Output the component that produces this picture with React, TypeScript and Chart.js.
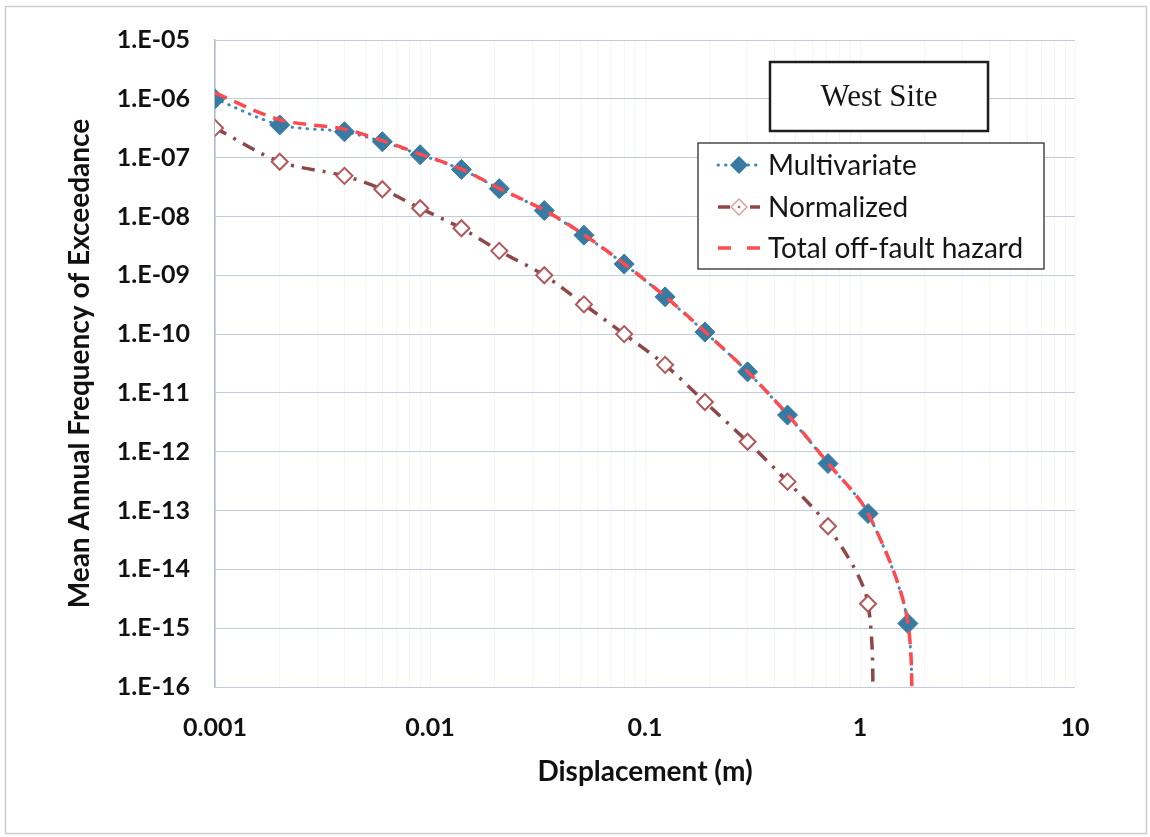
import React, { useEffect, useRef } from 'react';
import { Chart, registerables } from 'chart.js';

Chart.register(...registerables);

// ---- data ----
const multivariateX = [0.001, 0.002, 0.004, 0.006, 0.009, 0.014, 0.021, 0.034, 0.052, 0.08, 0.124, 0.19, 0.3, 0.46, 0.71, 1.09, 1.67, 1.71];
const multivariateY = [1.0e-6, 3.6e-7, 2.75e-7, 1.87e-7, 1.12e-7, 6.3e-8, 2.97e-8, 1.26e-8, 4.8e-9, 1.55e-9, 4.3e-10, 1.08e-10, 2.28e-11, 4.2e-12, 6.3e-13, 8.9e-14, 1.2e-15, 1e-18];

const normalizedX = [0.001, 0.002, 0.004, 0.006, 0.009, 0.014, 0.021, 0.034, 0.052, 0.08, 0.124, 0.19, 0.3, 0.46, 0.71, 1.09, 1.13];
const normalizedY = [3.2e-7, 8.5e-8, 4.9e-8, 2.9e-8, 1.38e-8, 6.3e-9, 2.6e-9, 1.0e-9, 3.2e-10, 1.0e-10, 3.0e-11, 7.0e-12, 1.48e-12, 3.1e-13, 5.4e-14, 2.6e-15, 1e-18];

const totalX = [0.001, 0.002, 0.004, 0.006, 0.009, 0.014, 0.021, 0.034, 0.052, 0.08, 0.124, 0.19, 0.3, 0.46, 0.71, 1.09, 1.67, 1.71];
const totalY = [1.26e-6, 4.4e-7, 3.05e-7, 1.95e-7, 1.15e-7, 6.4e-8, 3.0e-8, 1.28e-8, 4.9e-9, 1.57e-9, 4.4e-10, 1.1e-10, 2.3e-11, 4.3e-12, 6.4e-13, 9.0e-14, 1.25e-15, 1e-18];

const seriesNames = ['Multivariate', 'Normalized', 'Total off-fault hazard'];
const yTickExponents = [-16, -15, -14, -13, -12, -11, -10, -9, -8, -7, -6, -5];
const xTickValues = [0.001, 0.01, 0.1, 1, 10];
const xTickLabels = ['0.001', '0.01', '0.1', '1', '10'];
const xMinorMultipliers = [2, 3, 4, 5, 6, 7, 8, 9];
const xTitle = 'Displacement (m)';
const yTitle = 'Mean Annual Frequency of Exceedance';
const boxTitle = 'West Site';

const BLUE = '#377BA3';
const BLUE_LINE = '#3F8BB5';
const BROWN = '#8E4848';
const BROWN_MARK = '#B0585A';
const RED = '#FF4A50';

function pts(xs: number[], ys: number[]) {
  return xs.map((x, i) => ({ x, y: ys[i] }));
}

function drawDiamond(ctx: CanvasRenderingContext2D, x: number, y: number, r: number) {
  ctx.beginPath();
  ctx.moveTo(x - r, y);
  ctx.lineTo(x, y - r);
  ctx.lineTo(x + r, y);
  ctx.lineTo(x, y + r);
  ctx.closePath();
}

const decorPlugin = {
  id: 'decor',
  beforeDraw(chart: any) {
    const ctx = chart.ctx as CanvasRenderingContext2D;
    ctx.save();
    ctx.fillStyle = '#ffffff';
    ctx.fillRect(0, 0, chart.width, chart.height);
    ctx.strokeStyle = '#C9CDD2';
    ctx.lineWidth = 1.5;
    ctx.strokeRect(5.5, 6.5, 1141, 827);
    ctx.restore();
  },
  afterDraw(chart: any) {
    const ctx = chart.ctx as CanvasRenderingContext2D;
    ctx.save();
    // title box
    ctx.fillStyle = '#ffffff';
    ctx.fillRect(770, 62, 218, 69);
    ctx.strokeStyle = '#1E1E1E';
    ctx.lineWidth = 2.5;
    ctx.strokeRect(770, 62, 218, 69);
    ctx.fillStyle = '#141414';
    ctx.font = '31px "Liberation Serif"';
    ctx.textAlign = 'center';
    ctx.textBaseline = 'middle';
    ctx.fillText(boxTitle, 879, 98);

    // legend box
    ctx.fillStyle = '#ffffff';
    ctx.fillRect(698, 143, 346, 126);
    ctx.strokeStyle = '#4A4A4A';
    ctx.lineWidth = 1.5;
    ctx.strokeRect(698, 143, 346, 126);

    const rows = [165, 207, 248];
    chart.data.datasets.forEach((ds: any, i: number) => {
      const y = rows[i];
      ctx.save();
      ctx.strokeStyle = ds.borderColor;
      ctx.lineWidth = ds.borderWidth;
      ctx.lineCap = ds.borderCapStyle || 'butt';
      ctx.setLineDash(ds.legendDash || ds.borderDash || []);
      ctx.beginPath();
      ctx.moveTo(718, y);
      ctx.lineTo(760, y);
      ctx.stroke();
      ctx.restore();
      if (i === 0) {
        drawDiamond(ctx, 739, y, 9);
        ctx.fillStyle = BLUE;
        ctx.fill();
      } else if (i === 1) {
        drawDiamond(ctx, 739, y, 8);
        ctx.fillStyle = '#ffffff';
        ctx.fill();
        ctx.strokeStyle = '#D9A0A2';
        ctx.lineWidth = 1.5;
        ctx.stroke();
        ctx.beginPath();
        ctx.arc(739, y, 1.3, 0, Math.PI * 2);
        ctx.fillStyle = BROWN_MARK;
        ctx.fill();
      }
      ctx.fillStyle = '#151515';
      ctx.font = '28px Lato';
      ctx.textAlign = 'left';
      ctx.textBaseline = 'middle';
      ctx.fillText(seriesNames[i], 768, y + 1);
    });
    ctx.restore();
  },
};

export default function App() {
  const canvasRef = useRef<HTMLCanvasElement | null>(null);

  useEffect(() => {
    document.body.style.margin = '0';
    const canvas = canvasRef.current;
    if (!canvas) return;
    const n1 = multivariateX.length;
    const n2 = normalizedX.length;
    const chart = new Chart(canvas, {
      type: 'line',
      data: {
        datasets: [
          {
            label: seriesNames[0],
            data: pts(multivariateX, multivariateY),
            borderColor: BLUE_LINE,
            backgroundColor: BLUE,
            borderWidth: 3,
            borderDash: [0.5, 7],
            borderCapStyle: 'round',
            legendDash: [0.5, 7],
            pointStyle: 'rectRot',
            pointRadius: multivariateX.map((_, i) => (i === n1 - 1 ? 0 : 10)),
            pointBackgroundColor: BLUE,
            pointBorderColor: BLUE,
            pointBorderWidth: 1,
            tension: 0.3,
            order: 1,
          } as any,
          {
            label: seriesNames[1],
            data: pts(normalizedX, normalizedY),
            borderColor: BROWN,
            backgroundColor: '#ffffff',
            borderWidth: 3.5,
            borderDash: [13, 8, 3, 8],
            legendDash: [12, 20],
            pointStyle: 'rectRot',
            pointRadius: normalizedX.map((_, i) => (i === n2 - 1 ? 0 : 8)),
            pointBackgroundColor: '#ffffff',
            pointBorderColor: BROWN_MARK,
            pointBorderWidth: 2,
            tension: 0.3,
            order: 2,
          } as any,
          {
            label: seriesNames[2],
            data: pts(totalX, totalY),
            borderColor: RED,
            backgroundColor: RED,
            borderWidth: 3.5,
            borderDash: [13, 8],
            legendDash: [13, 16],
            pointRadius: 0,
            tension: 0.3,
            order: 0,
          } as any,
        ],
      },
      options: {
        responsive: false,
        animation: false,
        devicePixelRatio: 1,
        events: [],
        layout: { padding: { left: 0, right: 75, top: 37, bottom: 0 } },
        plugins: { legend: { display: false }, tooltip: { enabled: false } },
        scales: {
          x: {
            type: 'logarithmic',
            min: 0.001,
            max: 10,
            afterBuildTicks: (scale: any) => {
              const t: any[] = [];
              xTickValues.forEach((v, i) => {
                t.push({ value: v, major: true });
                if (i < xTickValues.length - 1) {
                  xMinorMultipliers.forEach((m) => t.push({ value: v * m, major: false }));
                }
              });
              scale.ticks = t;
            },
            afterFit: (scale: any) => {
              scale.height = 150;
            },
            ticks: {
              autoSkip: false,
              maxRotation: 0,
              padding: 26,
              color: '#111111',
              font: { family: 'Lato', weight: 'bold', size: 25 },
              callback: (value: any) => {
                const idx = xTickValues.findIndex((v) => Math.abs(v - Number(value)) / v < 1e-6);
                return idx >= 0 ? xTickLabels[idx] : '';
              },
            },
            grid: {
              drawTicks: false,
              color: '#F3F5F7',
              lineWidth: 1,
            },
            border: { display: false },
            title: {
              display: true,
              text: xTitle,
              color: '#111111',
              font: { family: 'Lato', weight: 'bold', size: 28 },
              padding: { top: 0, bottom: 48 },
            },
          },
          y: {
            type: 'logarithmic',
            min: 1e-16,
            max: 1e-5,
            afterBuildTicks: (scale: any) => {
              scale.ticks = yTickExponents.map((e) => ({ value: Math.pow(10, e), major: true }));
            },
            afterFit: (scale: any) => {
              scale.width = 215;
            },
            ticks: {
              padding: 25,
              color: '#111111',
              font: { family: 'Lato', weight: 'bold', size: 25 },
              callback: (value: any) => {
                const e = Math.round(Math.log10(Number(value)));
                const a = Math.abs(e);
                return '1.E' + (e < 0 ? '-' : '+') + (a < 10 ? '0' + a : String(a));
              },
            },
            grid: {
              drawTicks: false,
              color: '#C3CCD8',
              lineWidth: 1,
            },
            border: { display: true, color: '#AEB9C8', width: 1.5 },
            title: {
              display: true,
              text: yTitle,
              color: '#111111',
              font: { family: 'Lato', weight: 'bold', size: 28 },
              padding: { top: 63, bottom: 0 },
            },
          },
        },
      },
      plugins: [decorPlugin],
    } as any);
    return () => chart.destroy();
  }, []);

  return (
    <div style={{ position: 'absolute', left: 0, top: 0, width: 1150, height: 837 }}>
      <canvas ref={canvasRef} width={1150} height={837} style={{ display: 'block', width: 1150, height: 837 }} />
    </div>
  );
}
